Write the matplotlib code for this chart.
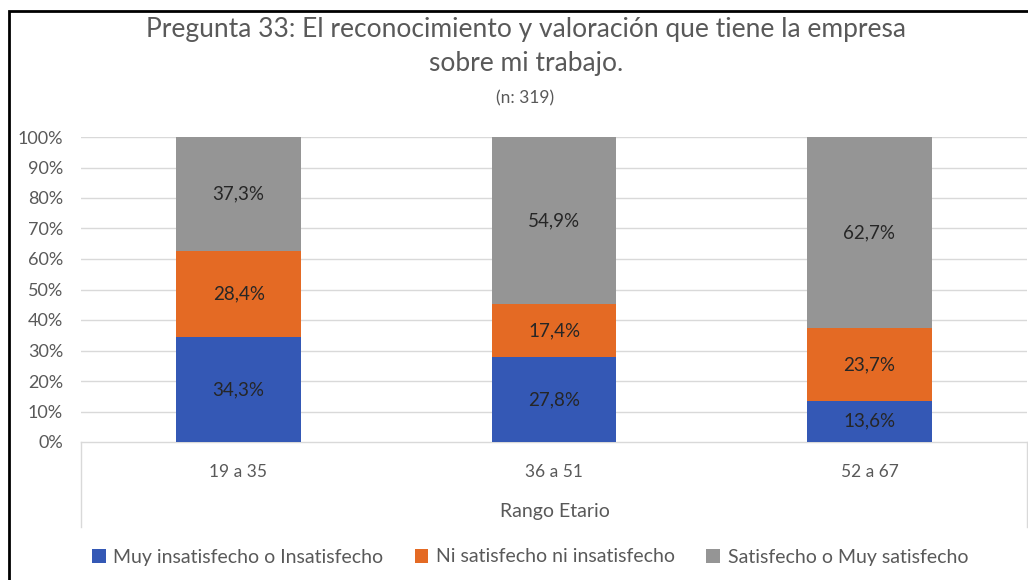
import matplotlib
matplotlib.use("Agg")
import matplotlib.pyplot as plt
from matplotlib.patches import Rectangle, Patch
from matplotlib.lines import Line2D
import numpy as np

categories = ["19 a 35", "36 a 51", "52 a 67"]
series_names = ["Muy insatisfecho o Insatisfecho", "Ni satisfecho ni insatisfecho", "Satisfecho o Muy satisfecho"]
muy_insat = [34.3, 27.8, 13.6]
ni_sat = [28.4, 17.4, 23.7]
satisf = [37.3, 54.9, 62.7]
yticks = [0, 10, 20, 30, 40, 50, 60, 70, 80, 90, 100]
title_line1 = "Pregunta 33: El reconocimiento y valoración que tiene la empresa"
title_line2 = "sobre mi trabajo."
subtitle = "(n: 319)"
xaxis_title = "Rango Etario"

colors = ["#3458B5", "#E46A24", "#959595"]
FONT = ["Lato", "DejaVu Sans"]
plt.rcParams['font.family'] = FONT

W, H = 1028, 580
fig = plt.figure(figsize=(W / 100, H / 100), dpi=100)

def fx(px):
    return px / W

def fy(py):
    return 1 - py / H

ax = fig.add_axes([fx(81), fy(442), fx(1027) - fx(81), fy(137) - fy(442)])
x = np.arange(len(categories))
series = [muy_insat, ni_sat, satisf]
bottom = np.zeros(len(categories))
for vals, col in zip(series, colors):
    v = np.array(vals)
    ax.bar(x, v, width=0.395, bottom=bottom, color=col, zorder=3)
    for xi, b, vi in zip(x, bottom, v):
        ax.text(xi, b + vi / 2, f"{vi:.1f}%".replace(".", ","), ha="center", va="center",
                fontsize=13.5, color="#262626", zorder=4)
    bottom += v

ax.set_xlim(-0.5, len(categories) - 0.5)
ax.set_ylim(0, 100)
ax.set_yticks(yticks)
ax.set_yticklabels([f"{t}%" for t in yticks], fontsize=13, color="#595959")
ax.tick_params(axis="y", length=0, pad=13)
ax.set_xticks([])
for t in yticks[1:]:
    ax.axhline(t, color="#D9D9D9", lw=1, zorder=1)
for s in ["top", "right", "left"]:
    ax.spines[s].set_visible(False)
ax.spines["bottom"].set_color("#D9D9D9")
ax.spines["bottom"].set_linewidth(1)

# category labels and multi-level axis box
for xi, c in zip(x, categories):
    fig.text(fx(238 + 316 * xi), fy(472), c, ha="center", va="center", fontsize=12.5, color="#595959")
fig.text(fx(555), fy(512), xaxis_title, ha="center", va="center", fontsize=14, color="#595959")
fig.add_artist(Line2D([fx(81), fx(81)], [fy(442), fy(527)], color="#D9D9D9", lw=1))
fig.add_artist(Line2D([fx(1027), fx(1027)], [fy(442), fy(527)], color="#D9D9D9", lw=1))

# titles
fig.text(fx(526), fy(30), title_line1, ha="center", va="center", fontsize=19, color="#595959")
fig.text(fx(526), fy(63), title_line2, ha="center", va="center", fontsize=19, color="#595959")
fig.text(fx(525), fy(98), subtitle, ha="center", va="center", fontsize=12.5, color="#595959")

# legend
handles = [Patch(facecolor=c, edgecolor="none") for c in colors]
fig.legend(handles, series_names, loc="center", bbox_to_anchor=(fx(530), fy(557)), ncol=3,
           frameon=False, fontsize=14, handlelength=0.7, handleheight=0.7, handletextpad=0.4,
           columnspacing=1.6, labelcolor="#595959")

# outer frame
fig.add_artist(Rectangle((fx(9), fy(H + 20)), 1.2, fy(11) - fy(H + 20), transform=fig.transFigure,
                         fill=False, edgecolor="black", lw=2, clip_on=False))

fig.savefig("out.png", dpi=100)
